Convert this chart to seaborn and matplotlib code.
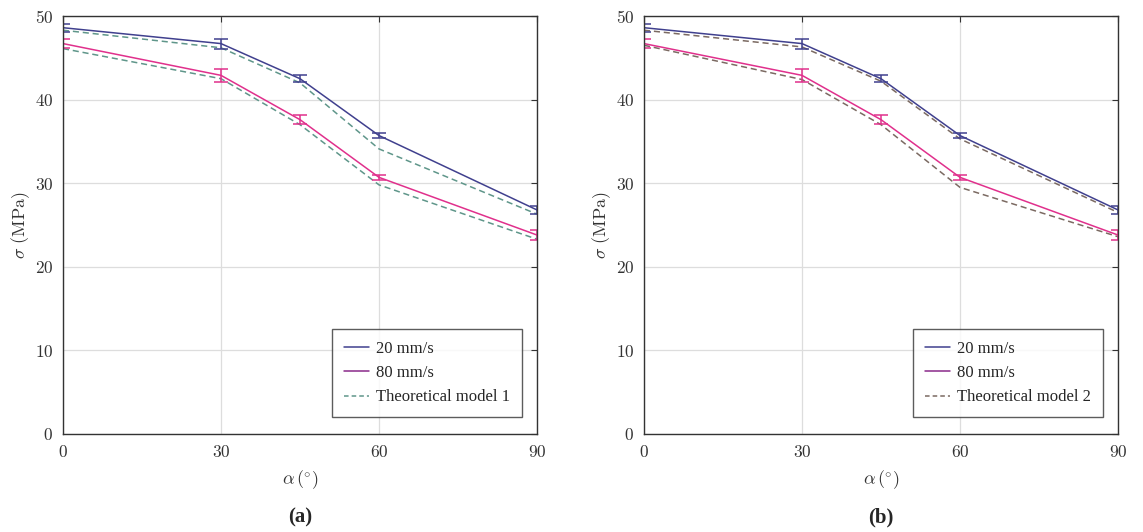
import numpy as np
import pandas as pd
import matplotlib
matplotlib.use("Agg")
import matplotlib.pyplot as plt
import seaborn as sns

# angle of loading (degrees)
angles = [0, 30, 45, 60, 90]

# experimental strength (MPa) with error bars
sigma_20 = [48.6, 46.7, 42.5, 35.7, 26.8]
err_20 = [0.5, 0.6, 0.4, 0.35, 0.45]
sigma_80 = [46.7, 42.9, 37.6, 30.7, 23.8]
err_80 = [0.5, 0.8, 0.5, 0.3, 0.6]

# theoretical predictions
model1_20 = [48.3, 46.2, 42.0, 34.1, 26.3]
model1_80 = [46.1, 42.5, 37.0, 29.8, 23.3]
model2_20 = [48.3, 46.3, 42.2, 35.3, 26.5]
model2_80 = [46.5, 42.4, 37.0, 29.5, 23.6]

panel_labels = ["(a)", "(b)"]
model_names = ["Theoretical model 1", "Theoretical model 2"]
model_colors = ["#5f968a", "#7b6a62"]

c20 = "#40408e"
c80 = "#e0308c"

sns.set_style("white")
plt.rcParams["font.family"] = ["cmr10", "DejaVu Serif"]
plt.rcParams["mathtext.fontset"] = "cm"
plt.rcParams["axes.formatter.use_mathtext"] = True

fig = plt.figure(figsize=(11.43, 5.32), dpi=100)
lefts = [63 / 1143, 644 / 1143]
models = [(model1_20, model1_80), (model2_20, model2_80)]

for i in range(2):
    ax = fig.add_axes([lefts[i], 98 / 532, 474 / 1143, 418 / 532])
    df = pd.DataFrame({"alpha": angles, "s20": sigma_20, "s80": sigma_80,
                       "m20": models[i][0], "m80": models[i][1]})

    # dashed model curves under the measured ones
    sns.lineplot(data=df, x="alpha", y="m20", ax=ax, color=model_colors[i],
                 lw=1.1, linestyle=(0, (4, 2.5)), label=None)
    sns.lineplot(data=df, x="alpha", y="m80", ax=ax, color=model_colors[i],
                 lw=1.1, linestyle=(0, (4, 2.5)), label=None)
    sns.lineplot(data=df, x="alpha", y="s20", ax=ax, color=c20, lw=1.1, label=None)
    sns.lineplot(data=df, x="alpha", y="s80", ax=ax, color=c80, lw=1.1, label=None)
    ax.errorbar(angles, sigma_20, yerr=err_20, fmt="none", ecolor=c20,
                elinewidth=1.1, capsize=5, capthick=1.1)
    ax.errorbar(angles, sigma_80, yerr=err_80, fmt="none", ecolor=c80,
                elinewidth=1.1, capsize=5, capthick=1.1)

    ax.set_xlim(0, 90)
    ax.set_ylim(0, 50)
    ax.set_xticks([0, 30, 60, 90])
    ax.set_yticks([0, 10, 20, 30, 40, 50])
    ax.grid(True, color="#dddddd", lw=0.9)
    ax.tick_params(direction="in", top=True, right=True, length=4,
                   labelsize=12.5, colors="#333333", pad=7)
    for s in ax.spines.values():
        s.set_color("#333333")
        s.set_linewidth(1.0)

    ax.set_xlabel(r"$\alpha\,(^{\circ})$", fontsize=13, color="#333333", labelpad=6)
    ax.set_ylabel(r"$\sigma\ \mathrm{(MPa)}$", fontsize=13, color="#333333", labelpad=2)

    handles = [
        plt.Line2D([], [], color=c20, lw=1.1),
        plt.Line2D([], [], color="#8a2a8a", lw=1.1),
        plt.Line2D([], [], color=model_colors[i], lw=1.1, linestyle=(0, (3, 2))),
    ]
    leg = ax.legend(handles, ["20 mm/s", "80 mm/s", model_names[i]],
                    loc="lower right", bbox_to_anchor=(1 - 15 / 474, 17 / 418),
                    borderaxespad=0,
                    prop={"family": "Liberation Serif", "size": 12},
                    frameon=True, fancybox=False, edgecolor="#333333",
                    handlelength=1.5, handletextpad=0.45, labelspacing=0.5,
                    borderpad=0.7)
    leg.get_frame().set_linewidth(1.0)

    ax.text(0.5, -0.2, panel_labels[i], transform=ax.transAxes, ha="center",
            va="center", fontsize=15, fontweight="bold", family="Liberation Serif")

fig.savefig("out.png", dpi=100)
